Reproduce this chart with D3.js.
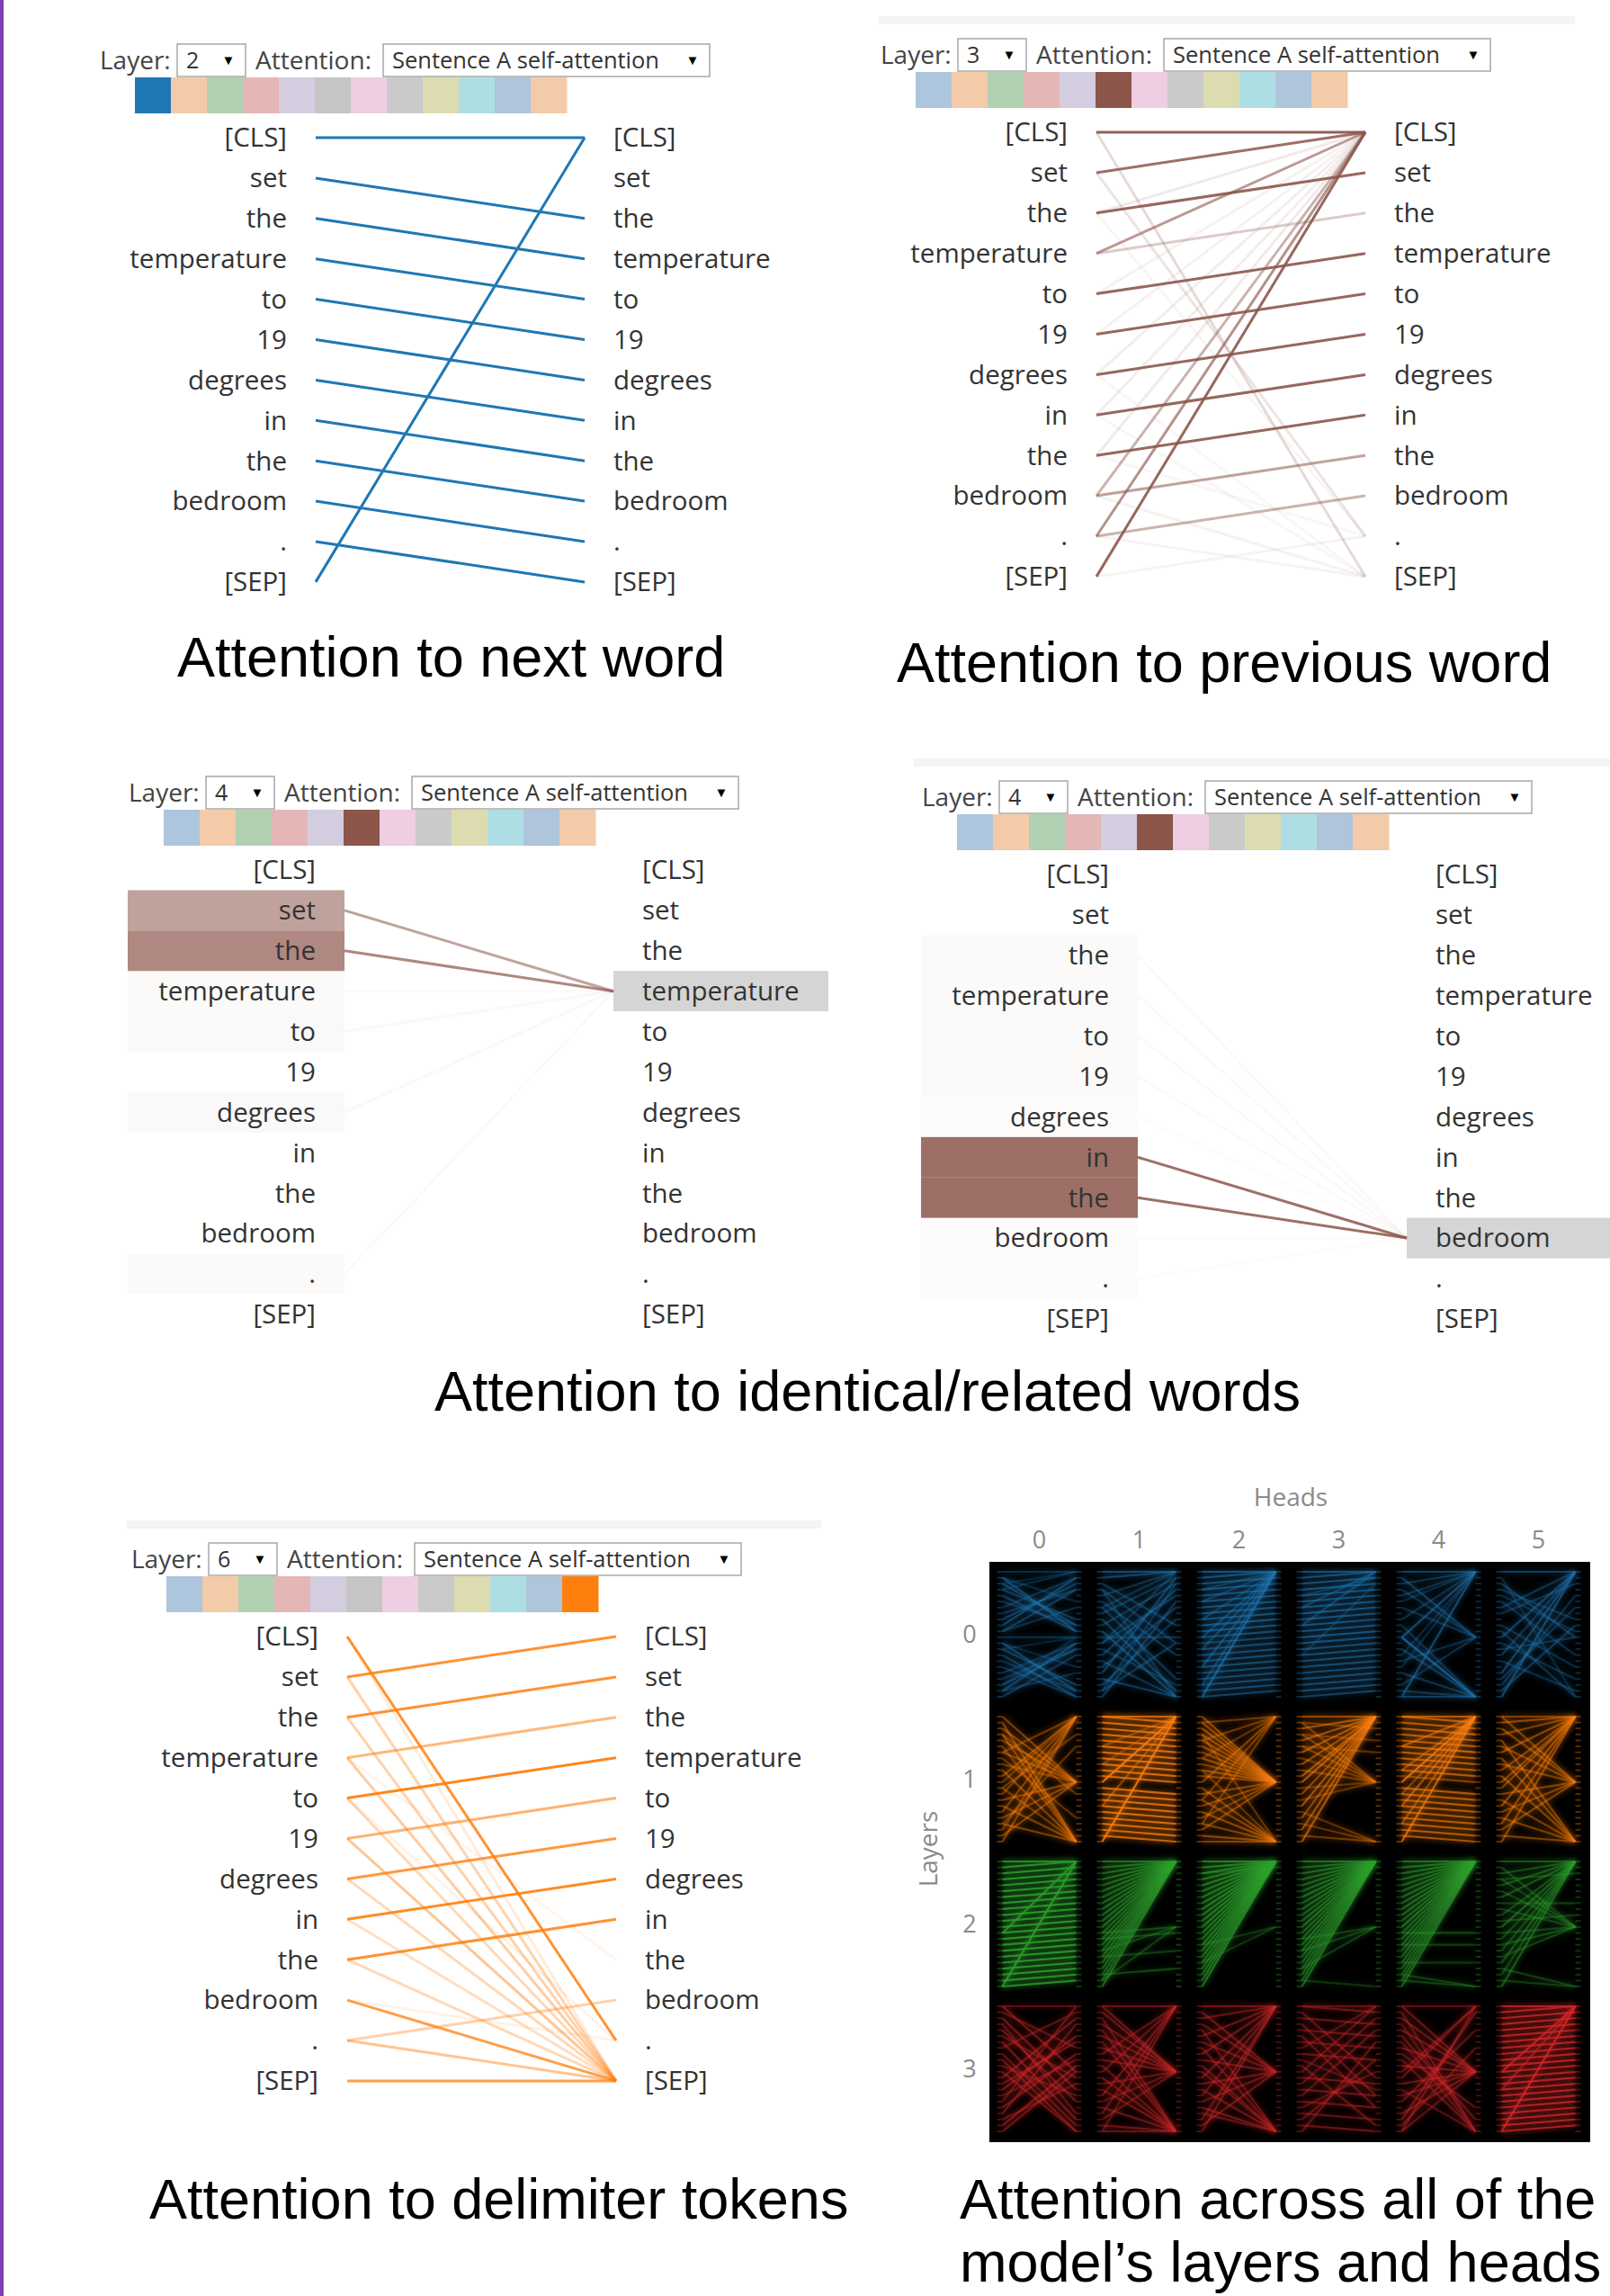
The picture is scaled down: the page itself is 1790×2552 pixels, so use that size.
<!DOCTYPE html>
<html>
<head>
<meta charset="utf-8">
<script src="https://cdn.jsdelivr.net/npm/d3@7"></script>
<style>
  body { margin: 0; background: #fff; }
  svg { display: block; }
  .ui { font-family: "Open Sans", "Noto Sans", sans-serif; font-size: 28px; fill: #444; }
  .dd { font-family: "Open Sans", "Noto Sans", sans-serif; font-size: 25px; fill: #333; }
  .tok { font-family: "Open Sans", "Noto Sans", sans-serif; font-size: 29.5px; fill: #333; }
  .cap { font-family: "Liberation Sans", Arial, sans-serif; font-size: 63px; fill: #000; }
  .axis { font-family: "Open Sans", "Noto Sans", sans-serif; fill: #8a8a8a; }
</style>
</head>
<body>
<svg id="fig" width="1790" height="2552"></svg>
<script>
// ---- data -------------------------------------------------------------
const tokens = ["[CLS]", "set", "the", "temperature", "to", "19", "degrees", "in", "the", "bedroom", ".", "[SEP]"];
const headIndex = [0, 1, 2, 3, 4, 5, 6, 7, 8, 9, 10, 11];
const attentionMode = "Sentence A self-attention";

// swatch colours of unselected heads
const swatchLight = ["#adc6de", "#f3cba8", "#b2d0b2", "#e4b6b6", "#d4cde0", "#c5c5c5",
                     "#efcde3", "#cacaca", "#dcdcb0", "#addee3", "#aec5db", "#f3cba8"];

// attention edges: [from token, to token, weight]
const nextWordEdges = [[0,0,1],[1,2,1],[2,3,1],[3,4,1],[4,5,1],[5,6,1],[6,7,1],[7,8,1],[8,9,1],[9,10,1],[10,11,1],[11,0,1]];

const prevWordEdges = [[0,0,.95],[1,0,.85],[2,1,.9],[3,0,.6],[3,2,.3],[4,3,.9],[5,4,.9],[6,5,.9],[7,6,.9],[8,7,.9],
  [9,8,.55],[9,0,.45],[10,9,.45],[10,0,.65],[11,0,.9],[0,11,.22],[1,10,.16],[2,0,.12],[4,0,.08],[5,0,.08],[6,0,.1],
  [7,0,.1],[8,0,.12],[11,10,.07],[9,11,.08],[10,11,.07],[6,11,.05],[2,10,.06],[8,10,.05],[7,11,.05]];

const temperatureEdges = [[1,3,.55],[2,3,.7],[3,3,.03],[4,3,.04],[6,3,.04],[10,3,.03]];
const bedroomEdges = [[7,9,.85],[8,9,.85],[2,9,.03],[3,9,.03],[4,9,.03],[5,9,.03],[6,9,.02],[9,9,.02],[10,9,.02]];

const delimiterEdges = [[0,10,.85],[1,0,.85],[2,1,.85],[3,2,.55],[4,3,.95],[5,4,.6],[6,5,.8],[7,6,.9],[8,7,.85],
  [9,11,.75],[10,9,.35],[10,11,.45],[11,11,.75],[1,11,.35],[2,11,.35],[3,11,.4],[4,11,.3],[5,11,.45],[6,11,.3],
  [7,11,.25],[8,11,.3],[0,11,.15],[9,10,.1],[4,10,.1],[3,8,.08]];

const captions = ["Attention to next word", "Attention to previous word", "Attention to identical/related words",
                  "Attention to delimiter tokens", "Attention across all of the", "model\u2019s layers and heads"];

// model view: 4 layers x 6 heads, 22 tokens per mini view
const gridHeads = [0, 1, 2, 3, 4, 5];
const gridLayers = [0, 1, 2, 3];
const gridTokenCount = 22;
const layerColors = ["#1f77b4", "#ff7f0e", "#2ca02c", "#d62728"];

const gridLayer0 = [
  [[0,0,.3],[1,10,.45],[2,9,.4],[3,8,.35],[4,10,.4],[8,2,.4],[9,1,.45],[10,3,.4],[6,1,.3],[5,9,.3],[7,3,.3],[1,5,.25],[10,6,.3],[11,11,.3],[12,20,.45],[13,19,.4],[14,21,.4],[19,13,.4],[20,12,.45],[21,14,.35],[15,20,.3],[18,13,.3],[16,21,.3],[17,12,.3],[12,16,.25],[20,17,.3],[3,0,.25],[2,0,.2],[13,11,.2],[19,11,.2]],
  [[0,0,.5],[1,0,.45],[2,9,.35],[3,12,.35],[4,0,.3],[5,14,.35],[6,18,.35],[7,1,.35],[8,20,.4],[9,2,.35],[10,21,.45],[11,11,.3],[12,4,.35],[13,19,.3],[14,3,.4],[15,21,.35],[16,6,.35],[17,1,.4],[18,21,.4],[19,8,.35],[20,12,.35],[21,5,.35],[3,21,.3],[6,0,.3],[12,0,.3],[20,2,.3]],
  [[0,0,.6],[1,0,.55],[2,1,.55],[3,2,.55],[4,3,.55],[5,4,.55],[6,5,.55],[7,6,.55],[8,7,.55],[9,8,.6],[10,9,.55],[11,10,.5],[12,11,.45],[13,12,.5],[14,13,.5],[15,14,.5],[16,15,.5],[17,16,.5],[18,17,.5],[19,18,.5],[20,19,.5],[21,20,.45],[21,0,.65],[16,0,.45],[13,0,.4],[11,0,.4],[8,0,.35],[5,0,.35],[3,0,.3],[19,0,.35]],
  [[0,0,.55],[1,0,.5],[2,1,.55],[3,2,.55],[4,3,.55],[5,4,.55],[6,5,.55],[7,6,.6],[8,7,.55],[9,8,.55],[10,9,.55],[11,10,.6],[12,11,.55],[13,12,.5],[14,13,.5],[15,14,.5],[16,15,.5],[17,16,.5],[18,17,.5],[19,18,.5],[20,19,.5],[21,20,.45],[9,0,.4],[6,0,.35],[4,1,.3],[14,2,.25]],
  [[0,0,.45],[11,21,.7],[21,0,.5],[11,0,.5],[1,11,.4],[2,0,.35],[4,0,.3],[6,11,.3],[8,0,.3],[13,21,.35],[15,11,.3],[17,21,.35],[19,11,.3],[20,21,.35],[14,0,.25],[3,11,.3],[9,21,.3],[21,21,.4],[5,0,.25],[16,0,.25]],
  [[0,0,.45],[21,0,.5],[17,0,.45],[11,0,.45],[14,0,.35],[2,11,.35],[5,14,.3],[3,8,.3],[7,2,.3],[9,16,.3],[12,18,.3],[15,20,.3],[18,6,.3],[20,9,.35],[6,0,.35],[1,21,.25],[13,11,.3],[10,21,.3],[19,4,.3],[4,10,.25]]
];
const gridLayer1 = [
  [[0,11,.4],[2,11,.4],[4,11,.4],[6,11,.4],[8,11,.35],[14,11,.4],[17,11,.4],[20,11,.4],[1,21,.4],[3,21,.4],[5,21,.35],[9,21,.4],[12,21,.35],[15,21,.4],[18,21,.4],[6,0,.35],[10,0,.4],[13,0,.35],[16,0,.4],[19,0,.35],[21,0,.4],[11,0,.3],[7,17,.3],[12,3,.3],[3,13,.3],[18,5,.3]],
  [[0,1,.7],[1,2,.75],[2,3,.75],[3,4,.75],[4,5,.75],[5,6,.75],[6,7,.75],[7,8,.75],[8,9,.75],[9,10,.75],[10,11,.7],[12,13,.75],[13,14,.75],[14,15,.75],[15,16,.75],[16,17,.75],[17,18,.75],[18,19,.75],[19,20,.75],[20,21,.7],[11,0,.8],[21,0,.8],[0,0,.7],[15,0,.4],[5,0,.35],[8,0,.3]],
  [[0,11,.45],[1,11,.4],[2,11,.45],[3,11,.45],[4,11,.4],[5,11,.45],[6,11,.4],[7,11,.45],[8,11,.4],[9,11,.45],[10,11,.4],[13,11,.4],[15,11,.4],[17,11,.35],[19,11,.4],[12,21,.4],[14,21,.4],[16,21,.45],[18,21,.4],[20,21,.45],[21,21,.4],[1,0,.35],[4,0,.35],[7,0,.3],[11,0,.4],[14,0,.35],[18,0,.35],[3,21,.3],[9,21,.3]],
  [[0,0,.5],[2,0,.5],[4,0,.5],[6,0,.5],[8,0,.45],[10,0,.5],[11,0,.55],[13,0,.45],[15,0,.5],[17,0,.45],[19,0,.5],[21,0,.55],[1,11,.35],[3,11,.35],[5,11,.35],[7,11,.3],[9,11,.35],[12,11,.3],[14,11,.3],[16,21,.3],[18,21,.3],[20,21,.35],[1,2,.3],[3,4,.3],[5,6,.3]],
  [[0,1,.6],[1,2,.6],[2,3,.65],[3,4,.6],[4,5,.6],[5,6,.65],[6,7,.6],[7,8,.6],[8,9,.6],[9,10,.6],[12,13,.6],[13,14,.6],[14,15,.6],[15,16,.6],[16,17,.6],[17,18,.6],[18,19,.6],[19,20,.6],[20,21,.55],[11,0,.7],[21,0,.65],[5,0,.5],[9,0,.45],[15,0,.5],[18,0,.45],[13,0,.4],[0,0,.6],[10,11,.4]],
  [[1,0,.45],[3,0,.4],[6,0,.45],[9,0,.4],[12,0,.4],[15,0,.45],[18,0,.45],[21,0,.45],[0,11,.4],[2,11,.4],[5,11,.4],[8,11,.4],[13,11,.4],[16,11,.4],[19,11,.4],[4,21,.4],[7,21,.4],[10,21,.4],[14,21,.4],[17,21,.4],[20,21,.4],[11,0,.4],[0,0,.4]]
];
const gridLayer2 = [
  [[0,0,.8],[1,0,.8],[2,1,.85],[3,2,.85],[4,3,.85],[5,4,.85],[6,5,.85],[7,6,.85],[8,7,.85],[9,8,.85],[10,9,.85],[11,10,.85],[12,11,.85],[13,12,.85],[14,13,.85],[15,14,.85],[16,15,.85],[17,16,.85],[18,17,.85],[19,18,.85],[20,19,.85],[21,20,.8],[21,0,.85],[12,0,.75]],
  [[0,0,.6],[1,0,.55],[2,0,.55],[3,0,.55],[4,0,.5],[5,0,.55],[6,0,.5],[7,0,.5],[8,0,.5],[9,0,.5],[10,0,.5],[11,0,.55],[12,0,.45],[13,0,.45],[14,0,.5],[15,0,.45],[16,0,.45],[17,0,.45],[18,0,.45],[19,0,.4],[20,0,.4],[21,0,.55],[13,12,.35],[16,15,.3],[19,18,.35],[20,11,.3],[15,11,.3],[12,11,.35]],
  [[0,0,.7],[1,0,.65],[2,0,.65],[3,0,.6],[4,0,.65],[5,0,.6],[6,0,.6],[7,0,.6],[8,0,.6],[9,0,.6],[10,0,.6],[11,0,.6],[12,0,.55],[13,0,.55],[14,0,.55],[15,0,.55],[16,0,.55],[17,0,.5],[18,0,.5],[19,0,.5],[20,0,.5],[21,0,.6],[2,1,.3],[14,11,.25],[17,11,.25]],
  [[0,0,.6],[1,0,.5],[2,0,.55],[3,0,.5],[4,0,.5],[5,0,.5],[6,0,.55],[7,0,.5],[8,0,.5],[9,0,.45],[10,0,.5],[11,0,.55],[12,0,.45],[13,0,.45],[14,0,.5],[15,0,.45],[16,0,.45],[17,0,.45],[18,0,.4],[19,0,.45],[20,0,.4],[21,0,.55],[13,11,.3],[15,11,.3],[18,11,.3],[20,21,.25]],
  [[0,0,.6],[1,0,.55],[2,0,.55],[3,0,.5],[4,0,.5],[5,0,.5],[6,0,.5],[7,0,.5],[8,0,.5],[9,0,.5],[10,0,.45],[11,0,.55],[12,0,.45],[13,0,.45],[14,0,.45],[15,0,.4],[16,0,.45],[17,0,.4],[18,0,.4],[19,0,.4],[20,0,.4],[21,0,.5],[12,12,.35],[14,14,.3],[17,17,.3],[19,21,.3],[20,21,.3]],
  [[0,0,.45],[2,0,.4],[4,0,.4],[6,0,.4],[9,0,.35],[11,0,.45],[13,0,.35],[15,0,.35],[17,0,.4],[19,0,.35],[21,0,.45],[1,11,.3],[3,11,.3],[5,11,.3],[8,11,.3],[12,11,.3],[14,11,.35],[16,11,.3],[18,21,.3],[20,21,.3],[7,7,.3],[10,9,.3],[3,2,.3]]
];
const gridLayer3 = [
  [[0,11,.45],[2,14,.45],[4,16,.4],[6,19,.45],[9,21,.4],[12,2,.45],[14,5,.45],[17,8,.4],[20,10,.45],[21,11,.4],[11,21,.4],[1,7,.35],[7,1,.35],[3,18,.35],[18,3,.4],[5,12,.35],[13,6,.35],[8,20,.35],[16,0,.35],[10,15,.35],[15,9,.35],[19,13,.35],[0,0,.35]],
  [[0,11,.4],[1,11,.4],[3,11,.4],[5,11,.4],[7,11,.4],[9,11,.4],[13,11,.35],[16,11,.35],[19,11,.35],[2,21,.35],[4,21,.35],[6,21,.35],[10,21,.35],[12,21,.4],[14,21,.4],[17,21,.4],[20,21,.4],[21,21,.35],[8,0,.35],[11,0,.35],[15,0,.4],[18,0,.35],[21,0,.35],[0,0,.4]],
  [[0,0,.45],[2,0,.4],[5,0,.4],[8,0,.4],[12,0,.4],[15,0,.35],[19,0,.4],[21,0,.4],[1,11,.4],[3,11,.4],[6,11,.4],[9,11,.4],[13,11,.4],[16,11,.4],[20,11,.4],[4,21,.35],[7,21,.35],[10,21,.35],[14,21,.4],[17,21,.4],[18,21,.35],[11,21,.35]],
  [[0,1,.4],[2,3,.4],[4,5,.4],[6,7,.35],[8,9,.4],[12,13,.4],[14,15,.4],[16,17,.4],[18,19,.35],[20,21,.4],[1,12,.35],[3,15,.35],[5,17,.35],[10,20,.35],[13,2,.35],[15,4,.35],[19,9,.35],[21,6,.35],[7,0,.3],[11,0,.35],[9,14,.3],[17,11,.3],[0,0,.35]],
  [[0,11,.4],[2,11,.4],[4,11,.4],[7,11,.4],[10,11,.4],[13,11,.4],[15,11,.4],[18,11,.4],[21,11,.35],[1,21,.35],[5,19,.35],[8,17,.35],[19,1,.4],[16,4,.35],[20,7,.35],[12,0,.35],[21,0,.4],[11,0,.35],[3,21,.3],[6,21,.3],[9,21,.35],[14,21,.3],[0,0,.35]],
  [[0,0,.75],[1,0,.7],[2,1,.75],[3,2,.75],[4,3,.75],[5,4,.75],[6,5,.75],[7,6,.75],[8,7,.7],[9,8,.75],[10,9,.75],[11,10,.7],[12,11,.7],[13,12,.75],[14,13,.75],[15,14,.75],[16,15,.75],[17,16,.75],[18,17,.75],[19,18,.75],[20,19,.75],[21,20,.7],[21,0,.8],[11,0,.7],[14,0,.5]]
];
const gridData = [gridLayer0, gridLayer1, gridLayer2, gridLayer3];

// ---- layout -----------------------------------------------------------
const svg = d3.select("#fig");
svg.append("rect").attr("width", 1790).attr("height", 2552).attr("fill", "#fff");
svg.append("rect").attr("x", 0).attr("y", 0).attr("width", 4).attr("height", 2552).attr("fill", "#7b3fae");

const panels = [
  { L: 111,  cy: 67,   layer: "2", sel: 0,  color: "#1f77b4", edges: nextWordEdges },
  { L: 979,  cy: 61,   layer: "3", sel: 5,  color: "#8c564b", edges: prevWordEdges, band: [-2, 772] },
  { L: 143,  cy: 881,  layer: "4", sel: 5,  color: "#8c564b", edges: temperatureEdges, focus: 3 },
  { L: 1025, cy: 886,  layer: "4", sel: 5,  color: "#8c564b", edges: bedroomEdges, focus: 9, band: [-9, 770] },
  { L: 146,  cy: 1733, layer: "6", sel: 11, color: "#ff7f0e", edges: delimiterEdges, band: [-5, 767] }
];

function drawPanel(p) {
  const g = svg.append("g");
  const { L, cy } = p;
  if (p.band) {
    g.append("rect").attr("x", L + p.band[0]).attr("y", cy - 43).attr("width", p.band[1] - p.band[0])
      .attr("height", 9).attr("fill", "#f4f4f4");
  }
  // header controls
  g.append("text").attr("class", "ui").attr("x", L).attr("y", cy).attr("dy", "0.35em").text("Layer:");
  g.append("rect").attr("x", L + 86).attr("y", cy - 18).attr("width", 76).attr("height", 36)
    .attr("fill", "#fff").attr("stroke", "#a8a8a8").attr("stroke-width", 1.5);
  g.append("text").attr("class", "dd").attr("x", L + 96).attr("y", cy).attr("dy", "0.35em").text(p.layer);
  g.append("text").attr("class", "dd").attr("x", L + 143).attr("y", cy).attr("dy", "0.3em")
    .attr("text-anchor", "middle").style("font-size", "15px").style("fill", "#000").text("\u25BC");
  g.append("text").attr("class", "ui").attr("x", L + 173).attr("y", cy).attr("dy", "0.35em").text("Attention:");
  g.append("rect").attr("x", L + 315).attr("y", cy - 18).attr("width", 363).attr("height", 36)
    .attr("fill", "#fff").attr("stroke", "#a8a8a8").attr("stroke-width", 1.5);
  g.append("text").attr("class", "dd").attr("x", L + 325).attr("y", cy).attr("dy", "0.35em")
    .attr("textLength", 297).attr("lengthAdjust", "spacingAndGlyphs").text(attentionMode);
  g.append("text").attr("class", "dd").attr("x", L + 659).attr("y", cy).attr("dy", "0.3em")
    .attr("text-anchor", "middle").style("font-size", "15px").style("fill", "#000").text("\u25BC");

  // head swatches
  const sx = d3.scaleBand().domain(headIndex).range([L + 39, L + 39 + 480]);
  g.selectAll(null).data(headIndex).join("rect")
    .attr("x", d => sx(d)).attr("y", cy + 19).attr("width", sx.bandwidth() + 0.5).attr("height", 40)
    .attr("fill", d => d === p.sel ? p.color : swatchLight[d]);

  // token rows
  const y = d3.scalePoint().domain(d3.range(tokens.length)).range([cy + 86, cy + 86 + 11 * 44.9]);
  const xL = L + 240, xR = L + 539;
  const rowH = y.step();

  if (p.focus != null) {
    g.selectAll(null).data(p.edges).join("rect")
      .attr("x", L - 1).attr("y", d => y(d[0]) - rowH / 2).attr("width", xL - L + 1).attr("height", rowH)
      .attr("fill", p.color).attr("fill-opacity", d => d[2]);
    g.append("rect").attr("x", xR).attr("y", y(p.focus) - rowH / 2).attr("width", 239).attr("height", rowH)
      .attr("fill", "#d5d5d5");
  }

  const sorted = p.edges.slice().sort((a, b) => a[2] - b[2]);
  g.selectAll(null).data(sorted).join("line")
    .attr("x1", xL).attr("y1", d => y(d[0])).attr("x2", xR).attr("y2", d => y(d[1]))
    .attr("stroke", p.color).attr("stroke-opacity", d => d[2]).attr("stroke-width", 3);

  g.selectAll(null).data(tokens).join("text").attr("class", "tok")
    .attr("x", L + 208).attr("y", (d, i) => y(i)).attr("dy", "0.35em").attr("text-anchor", "end").text(d => d);
  g.selectAll(null).data(tokens).join("text").attr("class", "tok")
    .attr("x", L + 571).attr("y", (d, i) => y(i)).attr("dy", "0.35em").text(d => d);
}
panels.forEach(drawPanel);

// ---- model view grid --------------------------------------------------
const gx = d3.scaleBand().domain(gridHeads).range([1100, 1766]).paddingInner(17 / 111).paddingOuter(8.5 / 111);
const gy = d3.scaleBand().domain(gridLayers).range([1736, 2380]).paddingInner(16 / 161).paddingOuter(8 / 161);

const defs = svg.append("defs");
defs.append("filter").attr("id", "soft").append("feGaussianBlur").attr("stdDeviation", 0.7);
defs.append("filter").attr("id", "haze").attr("x", "-10%").attr("y", "-10%").attr("width", "120%").attr("height", "120%")
  .append("feGaussianBlur").attr("stdDeviation", 3);

svg.append("rect").attr("x", 1100).attr("y", 1736).attr("width", 668).attr("height", 645).attr("fill", "#000");

// glow pass under the sharp pass
const hazeLayer = svg.append("g").attr("filter", "url(#haze)");
const grid = svg.append("g").attr("filter", "url(#soft)");

gridLayers.forEach(l => {
  gridHeads.forEach(h => {
    const x0 = gx(h), x1 = gx(h) + gx.bandwidth();
    const ty = d3.scalePoint().domain(d3.range(gridTokenCount)).range([gy(l) + 3, gy(l) + gy.bandwidth() - 3]);
    const col = layerColors[l];
    const edges = gridData[l][h].slice().sort((a, b) => a[2] - b[2]);

    hazeLayer.append("g").selectAll(null).data(edges).join("line")
      .attr("x1", x0 + 6).attr("y1", d => ty(d[0])).attr("x2", x1 - 6).attr("y2", d => ty(d[1]))
      .attr("stroke", col).attr("stroke-opacity", d => d[2] * 0.55).attr("stroke-width", 5);

    const cell = grid.append("g");
    // token markers on both edges
    cell.selectAll(null).data(d3.range(gridTokenCount)).join("line")
      .attr("x1", x0).attr("x2", x0 + 6).attr("y1", d => ty(d)).attr("y2", d => ty(d))
      .attr("stroke", col).attr("stroke-opacity", 0.35).attr("stroke-width", 2);
    cell.selectAll(null).data(d3.range(gridTokenCount)).join("line")
      .attr("x1", x1 - 6).attr("x2", x1).attr("y1", d => ty(d)).attr("y2", d => ty(d))
      .attr("stroke", col).attr("stroke-opacity", 0.35).attr("stroke-width", 2);
    cell.selectAll(null).data(edges).join("line")
      .attr("x1", x0 + 6).attr("y1", d => ty(d[0])).attr("x2", x1 - 6).attr("y2", d => ty(d[1]))
      .attr("stroke", col).attr("stroke-opacity", d => d[2]).attr("stroke-width", 2.2);
  });
});

svg.append("text").attr("class", "axis").attr("x", 1435).attr("y", 1664).attr("dy", "0.35em")
  .attr("text-anchor", "middle").style("font-size", "28px").text("Heads");
svg.selectAll(null).data(gridHeads).join("text").attr("class", "axis")
  .attr("x", d => gx(d) + gx.bandwidth() / 2).attr("y", 1712).attr("dy", "0.35em")
  .attr("text-anchor", "middle").style("font-size", "27px").text(d => d);
svg.selectAll(null).data(gridLayers).join("text").attr("class", "axis")
  .attr("x", 1078).attr("y", d => gy(d) + gy.bandwidth() / 2).attr("dy", "0.35em")
  .attr("text-anchor", "middle").style("font-size", "27px").text(d => d);
svg.append("text").attr("class", "axis").attr("transform", "translate(1032,2055) rotate(-90)")
  .attr("dy", "0.35em").attr("text-anchor", "middle").style("font-size", "28px").text("Layers");

// ---- captions ---------------------------------------------------------
const capPos = [[197, 752], [997, 758], [483, 1568], [166, 2466], [1067, 2466], [1067, 2536]];
svg.selectAll(null).data(captions).join("text").attr("class", "cap")
  .attr("x", (d, i) => capPos[i][0]).attr("y", (d, i) => capPos[i][1]).text(d => d);
</script>
</body>
</html>
